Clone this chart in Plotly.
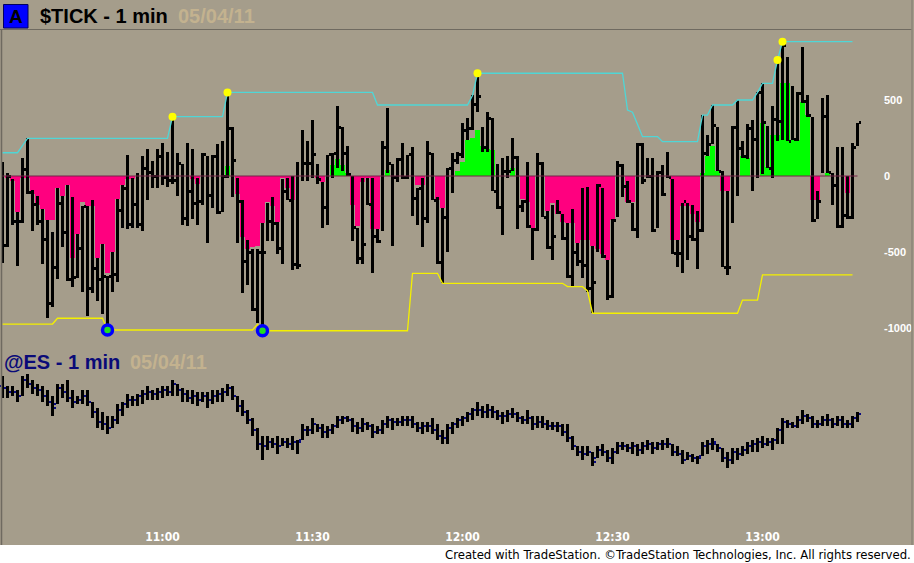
import pandas as pd
import plotly.graph_objects as go

# ---------------- data ----------------
bar_times = pd.date_range("2011-05-04 10:28", periods=172, freq="min")
time_ticks = ["11:00", "11:30", "12:00", "12:30", "13:00"]
tick_levels = [500, 0, -500, -1000]

tick_high = [90, 20, -20, -240, 120, 248, -90, -130, -220, -290,
             -370, -80, -130, -60, -140, -380, -200, -200, -160, -540,
             -450, -660, -500, -150, -60, 140, -10, 20, 130, 180,
             100, 180, 220, 160, 390, 150, 80, 220, 180, -10,
             150, 130, 140, 210, 230, 550, 320, -10, -160, -420,
             -480, -480, -310, -175, -140, -300, -20, -10, 0, 90,
             300, 230, 370, 80, -40, 140, 150, 460, 320, 200,
             0, -340, -10, -10, -10, -350, 230, 450, 80, 120,
             220, 140, 190, -80, -10, 230, 150, -140, -210, 50,
             150, 160, 350, 380, 530, 676, 320, 420, 380, 80,
             120, 130, 250, 130, -160, 90, -340, 150, 90, -230,
             -190, -160, -250, -310, -220, -440, -80, -70, -460, -50,
             -80, -550, -280, 100, 80, -30, -180, 220, 220, 120,
             120, 30, 70, 160, -20, -420, -180, -180, -190, -230,
             400, 270, 467, 320, 30, -100, 330, 500, 230, 340,
             370, 550, 610, 330, 460, 763, 884, 780, 590, 550,
             850, 530, 390, -100, 510, 530, 20, 190, 190, 0,
             220, 350]
tick_low = [-570, -470, -320, -590, -310, -120, -360, -320, -580, -936,
            -860, -680, -470, -690, -730, -670, -760, -920, -770, -820,
            -910, -1013, -760, -700, -340, -350, -340, -340, -360, -160,
            -80, -80, -60, -70, -50, -130, -320, -330, -280, -320,
            -190, -440, -210, -250, -240, -10, -140, -440, -770, -720,
            -890, -970, -1018, -430, -430, -510, -580, -160, -620, -610,
            -30, -30, -10, -50, -340, -320, -10, 50, 30, 0,
            -430, -580, -580, -190, -640, -440, -360, 20, -460, -40,
            -20, -20, -260, -320, -470, -310, -160, -580, -706, -500,
            -110, 80, 120, 240, 300, 420, 160, 160, -100, -220,
            -390, -10, 30, -350, -240, -340, -550, -360, -270, -480,
            -550, -250, -420, -670, -728, -590, -670, -760, -903, -500,
            -540, -816, -800, -270, -140, -180, -360, -410, -50, -10,
            -370, -340, -130, -10, -510, -600, -640, -550, -430, -610,
            -370, 130, 210, 30, -600, -651, -310, -130, 120, 110,
            -100, -10, 10, 50, -10, 230, 240, 230, 240, 230,
            480, 390, -300, -280, 20, 20, -190, -340, -340, -280,
            -280, 200]
tick_close = [-460, 0, -300, -300, 40, -110, -190, -300, -420, -840,
              -600, -180, -370, -680, -670, -480, -200, -740, -610, -680,
              -660, -660, -650, -230, -80, -320, -190, -320, 50, 20,
              0, 130, -10, -30, -30, 80, -280, -100, -180, -170,
              140, -130, 130, -240, 0, 310, 100, -170, -560, -500,
              -880, -500, -500, -300, -310, -480, -100, -160, -580, -590,
              80, 80, 140, -20, -210, 140, 150, 320, 150, 10,
              -340, -540, -450, -190, -400, -430, 190, 80, -10, 110,
              -10, 140, -150, -80, -280, 150, -160, -570, -270, 50,
              100, 140, 300, 310, 470, 520, 190, 380, -100, -210,
              30, 30, 120, -200, -170, -330, -350, 80, -270, -470,
              -400, -240, -410, -660, -500, -560, -590, -740, -700, -60,
              -530, -790, -290, 70, -70, -170, -350, 210, -30, 0,
              -360, 20, -120, -10, -510, -510, -170, -400, -420, -360,
              150, 210, 330, 30, -600, -600, 320, 180, 130, 310,
              240, 550, 350, 50, 370, 360, 860, 230, 240, 540,
              490, 400, -290, -170, 390, 20, -60, -330, -260, -270,
              190, 350]
tick_hist = [0, -10, -35, -240, -10, -10, -120, -190, -220, -290,
             -290, -80, -130, -60, -540, -380, -170, -200, -200, -540,
             -450, -640, -500, -150, -60, -20, -20, 0, 0, 0,
             0, 0, 0, 0, 0, 0, 0, 0, -20, -55,
             0, 0, 0, 0, 0, 65, 0, -120, -400, -480,
             -470, -460, -310, -170, -200, -300, -10, -80, -160, 0,
             0, 0, 0, -10, -40, 0, 70, 110, 70, 20,
             -190, -330, -40, -10, -350, -350, 0, 40, 0, 0,
             0, 0, 0, -60, -60, 0, 0, -160, -210, 0,
             0, 30, 90, 240, 250, 300, 200, 180, 170, 0,
             0, 0, 50, 0, -150, -170, -340, 0, 0, -230,
             -180, -250, -300, -310, -310, -440, -420, -420, -460, -480,
             -510, -550, -290, 0, 0, -170, -170, 0, 0, 0,
             0, 0, 0, 0, -420, -420, -200, -200, -250, -300,
             20, 130, 200, 30, -100, -100, 0, 0, 130, 120,
             0, 0, 350, 60, 270, 270, 610, 610, 240, 240,
             490, 400, -160, -160, 0, 20, 0, 0, 0, -110,
             0, 0]
tick_upper = ([153] * 4 + [200] + [248] * 29 + [390] * 11 + [550] * 30 +
              [467] * 19 + [530] + [676] * 30 + [434, 420, 340] + [259] * 4 +
              [226] * 8 + [401] * 2 + [467] * 5 + [500] * 4 + [550] +
              [610] * 3 + [763] + [884] * 15 + [None])
tick_lower = ([-974] * 11 + [-936] * 10 + [-1013] * 30 + [-975] +
              [-1018] * 30 + [-640] * 6 + [-706] * 25 + [-728] * 4 + [-756] +
              [-903] * 30 + [-816] * 4 + [-651] * 19 + [None])
new_high_idx = [34, 45, 95, 155, 156]
new_low_idx = [21, 52]

es_high = [1356.0, 1354.75, 1354.75, 1354.25, 1356.0, 1356.25, 1355.5, 1355.0, 1354.75, 1354.25,
           1353.5, 1355.0, 1355.0, 1355.5, 1354.25, 1353.5, 1354.25, 1354.25, 1352.75, 1352.0,
           1351.5, 1351.0, 1351.0, 1352.5, 1352.75, 1353.75, 1353.5, 1353.75, 1354.25, 1354.75,
           1354.25, 1354.5, 1354.75, 1354.75, 1355.5, 1355.0, 1354.5, 1354.25, 1354.25, 1354.0,
           1354.0, 1354.0, 1354.25, 1354.25, 1354.5, 1355.0, 1354.75, 1353.5, 1353.0, 1351.75,
           1350.75, 1349.5, 1348.5, 1348.5, 1348.25, 1348.5, 1348.25, 1348.25, 1348.5, 1348.0,
           1350.0, 1349.75, 1350.75, 1350.0, 1350.0, 1349.75, 1350.0, 1351.0, 1351.0, 1351.0,
           1350.75, 1350.25, 1350.75, 1350.25, 1350.0, 1349.75, 1350.5, 1351.0, 1350.75, 1350.75,
           1351.0, 1351.0, 1351.0, 1350.25, 1350.25, 1350.25, 1350.75, 1350.0, 1349.25, 1350.0,
           1350.25, 1350.75, 1351.0, 1351.5, 1352.0, 1352.75, 1352.25, 1352.5, 1352.25, 1351.75,
           1351.5, 1351.75, 1352.0, 1351.5, 1351.0, 1351.75, 1351.0, 1351.0, 1351.0, 1350.5,
           1350.25, 1350.25, 1350.0, 1350.0, 1348.5, 1347.25, 1347.25, 1347.25, 1346.5, 1347.25,
           1347.5, 1346.75, 1347.0, 1347.75, 1347.75, 1347.5, 1347.75, 1347.5, 1347.75, 1348.0,
           1347.75, 1347.75, 1348.0, 1348.25, 1347.5, 1347.25, 1346.75, 1346.5, 1346.25, 1346.0,
           1347.75, 1348.0, 1348.25, 1347.5, 1347.0, 1346.5, 1347.0, 1347.0, 1347.25, 1347.75,
           1348.0, 1348.25, 1348.5, 1348.25, 1348.25, 1349.5, 1350.75, 1350.5, 1350.25, 1351.0,
           1351.75, 1351.25, 1351.0, 1350.5, 1351.0, 1351.25, 1350.75, 1351.0, 1351.0, 1350.5,
           1351.0, 1351.5]
es_low = [1353.25, 1353.25, 1353.5, 1352.75, 1353.5, 1354.5, 1353.75, 1353.5, 1352.75, 1352.25,
          1351.0, 1352.5, 1353.25, 1352.75, 1352.0, 1352.5, 1352.5, 1352.25, 1350.75, 1349.5,
          1349.25, 1348.75, 1349.5, 1350.0, 1351.0, 1352.0, 1352.25, 1352.25, 1352.5, 1353.0,
          1353.0, 1353.0, 1353.25, 1353.5, 1353.5, 1353.5, 1352.75, 1352.75, 1352.5, 1352.25,
          1352.75, 1352.0, 1352.5, 1352.75, 1352.75, 1353.5, 1353.0, 1351.5, 1351.0, 1350.0,
          1348.5, 1346.75, 1345.5, 1346.75, 1347.0, 1346.25, 1347.25, 1347.0, 1346.75, 1346.25,
          1348.0, 1348.5, 1348.75, 1349.0, 1348.25, 1348.25, 1348.75, 1349.5, 1350.0, 1350.25,
          1349.0, 1348.75, 1349.0, 1349.25, 1348.25, 1348.75, 1348.75, 1349.5, 1349.25, 1349.75,
          1349.75, 1349.75, 1349.5, 1349.0, 1348.75, 1349.0, 1348.75, 1348.0, 1347.5, 1347.5,
          1348.75, 1349.5, 1349.75, 1350.25, 1350.5, 1351.0, 1350.75, 1350.75, 1350.75, 1350.5,
          1350.0, 1350.25, 1350.75, 1350.25, 1350.0, 1350.0, 1349.25, 1349.5, 1349.5, 1349.25,
          1349.25, 1349.0, 1348.5, 1347.75, 1346.75, 1346.0, 1345.5, 1346.0, 1344.75, 1345.75,
          1346.0, 1345.25, 1345.0, 1346.25, 1346.75, 1346.5, 1346.25, 1346.0, 1346.25, 1346.75,
          1346.25, 1346.75, 1346.75, 1347.0, 1346.0, 1346.0, 1345.0, 1345.5, 1345.25, 1345.0,
          1346.0, 1346.25, 1346.75, 1346.5, 1345.25, 1344.5, 1345.0, 1345.5, 1346.0, 1346.25,
          1346.5, 1346.5, 1347.0, 1347.25, 1346.75, 1347.5, 1347.5, 1349.5, 1349.5, 1349.5,
          1350.0, 1350.25, 1349.5, 1349.5, 1349.75, 1349.75, 1349.5, 1349.75, 1349.5, 1349.5,
          1349.5, 1350.25]
es_close = [1354.5, 1354.0, 1354.0, 1353.5, 1355.5, 1355.0, 1354.5, 1354.25, 1353.5, 1352.75,
            1352.0, 1354.5, 1354.0, 1353.25, 1352.75, 1353.0, 1353.5, 1352.75, 1351.5, 1350.25,
            1350.0, 1349.5, 1350.5, 1351.75, 1352.5, 1353.0, 1353.0, 1353.5, 1353.75, 1354.0,
            1353.75, 1354.0, 1354.25, 1354.0, 1355.0, 1354.25, 1353.75, 1353.25, 1353.5, 1353.0,
            1353.5, 1353.0, 1353.5, 1353.75, 1354.0, 1354.5, 1353.5, 1352.25, 1351.5, 1350.5,
            1349.25, 1347.5, 1347.25, 1347.75, 1347.5, 1347.25, 1347.75, 1347.5, 1347.75, 1347.75,
            1349.25, 1349.25, 1350.0, 1349.5, 1349.0, 1349.25, 1349.75, 1350.5, 1350.75, 1350.5,
            1349.75, 1349.5, 1350.0, 1349.75, 1349.0, 1349.25, 1350.0, 1350.5, 1350.25, 1350.25,
            1350.5, 1350.5, 1350.0, 1349.5, 1349.75, 1349.75, 1349.25, 1348.5, 1348.25, 1349.5,
            1350.0, 1350.5, 1350.75, 1351.25, 1351.75, 1351.75, 1351.5, 1351.75, 1351.5, 1351.0,
            1351.0, 1351.25, 1351.25, 1350.75, 1350.5, 1350.75, 1350.0, 1350.25, 1350.0, 1349.75,
            1349.75, 1349.75, 1349.0, 1348.25, 1347.25, 1346.5, 1346.25, 1346.5, 1345.25, 1346.75,
            1346.5, 1345.75, 1346.5, 1347.25, 1347.25, 1347.0, 1347.25, 1346.75, 1347.25, 1347.5,
            1347.0, 1347.5, 1347.5, 1347.5, 1346.5, 1346.25, 1345.5, 1346.0, 1345.75, 1345.75,
            1347.25, 1347.5, 1347.75, 1347.0, 1345.75, 1345.5, 1346.5, 1346.25, 1346.75, 1347.25,
            1347.5, 1347.75, 1347.5, 1347.75, 1348.0, 1349.25, 1350.25, 1350.0, 1349.75, 1350.5,
            1351.0, 1350.75, 1350.0, 1350.0, 1350.5, 1350.5, 1350.0, 1350.5, 1350.0, 1350.0,
            1350.75, 1351.25]
es_open = [1354.75, 1354.5, 1354.0, 1354.0, 1353.5, 1355.5, 1355.0, 1354.5, 1354.25, 1353.5,
           1352.75, 1352.5, 1354.5, 1354.0, 1353.25, 1352.75, 1353.0, 1353.5, 1352.75, 1351.5,
           1350.25, 1350.0, 1349.5, 1350.5, 1351.75, 1352.5, 1353.0, 1353.0, 1353.5, 1353.75,
           1354.0, 1353.75, 1354.0, 1354.25, 1354.0, 1355.0, 1354.25, 1353.75, 1353.25, 1353.5,
           1353.0, 1353.5, 1353.0, 1353.5, 1353.75, 1354.0, 1354.5, 1353.5, 1352.25, 1351.5,
           1350.5, 1349.25, 1347.5, 1347.25, 1347.75, 1347.5, 1347.25, 1347.75, 1347.5, 1347.75,
           1348.0, 1349.25, 1349.25, 1350.0, 1349.5, 1349.0, 1349.25, 1349.75, 1350.5, 1350.75,
           1350.5, 1349.75, 1349.5, 1350.0, 1349.75, 1349.0, 1349.25, 1350.0, 1350.5, 1350.25,
           1350.25, 1350.5, 1350.5, 1350.0, 1349.5, 1349.75, 1349.75, 1349.25, 1348.5, 1348.25,
           1349.5, 1350.0, 1350.5, 1350.75, 1351.25, 1351.75, 1351.75, 1351.5, 1351.75, 1351.5,
           1351.0, 1351.0, 1351.25, 1351.25, 1350.75, 1350.5, 1350.75, 1350.0, 1350.25, 1350.0,
           1349.75, 1349.75, 1349.75, 1349.0, 1348.25, 1347.25, 1346.5, 1346.25, 1346.5, 1345.75,
           1346.75, 1346.5, 1345.75, 1346.5, 1347.25, 1347.25, 1347.0, 1347.25, 1346.75, 1347.25,
           1347.5, 1347.0, 1347.5, 1347.5, 1347.5, 1346.5, 1346.25, 1345.5, 1346.0, 1345.75,
           1346.0, 1347.25, 1347.5, 1347.5, 1347.0, 1345.75, 1345.5, 1346.5, 1346.25, 1346.75,
           1347.25, 1347.5, 1347.75, 1347.5, 1347.75, 1348.0, 1349.25, 1350.25, 1350.0, 1349.75,
           1350.5, 1351.0, 1350.75, 1350.0, 1350.0, 1350.5, 1350.5, 1350.0, 1350.5, 1350.0,
           1350.0, 1350.75]

for arr in (tick_high, tick_low, tick_close, tick_hist, tick_upper, tick_lower,
            es_high, es_low, es_close, es_open):
    assert len(arr) == len(bar_times), len(arr)

# ---------------- layout geometry (pixels) ----------------
W, H = 914, 563
BG = "#a59d8b"
PLOT_RIGHT = 878
t0 = bar_times[0]


def time_at_px(p):               # bar i is centred at 2.5 + 5*i px
    return t0 + pd.Timedelta(minutes=(p - 2.5) / 5.0)


def px_x(p):
    return p / W


def px_y(p):
    return 1 - p / H


x_range = [time_at_px(0), time_at_px(PLOT_RIGHT)]
MS = 12000                        # ms per pixel (5 px per minute)

# TICK panel: value v at y = 176 - 0.152 v
tick_top, tick_bot = 30, 340
tick_range = [(176 - tick_bot) / 0.152, (176 - tick_top) / 0.152]
# ES panel: price p at y = 376 + 8 (1356 - p)
es_top, es_bot = 345, 528
es_range = [1356 - (es_bot - 376) / 8.0, 1356 - (es_top - 376) / 8.0]

fig = go.Figure()

# histogram
fig.add_trace(go.Bar(
    x=bar_times, y=tick_hist, base=0, width=5 * MS,
    marker=dict(color=["#00ff00" if v > 0 else "#ff007f" for v in tick_hist],
                line=dict(width=0)),
    xaxis="x", yaxis="y", hoverinfo="skip"))
# zero line
fig.add_trace(go.Scatter(
    x=[bar_times[0], bar_times[-1]], y=[0, 0], mode="lines",
    line=dict(color="#742449", width=1), xaxis="x", yaxis="y", hoverinfo="skip"))
# upper / lower bands
fig.add_trace(go.Scatter(
    x=bar_times, y=tick_lower, mode="lines",
    line=dict(color="#f4f000", width=1.3), xaxis="x", yaxis="y", hoverinfo="skip"))
fig.add_trace(go.Scatter(
    x=bar_times, y=tick_upper, mode="lines",
    line=dict(color="#4fd6d6", width=1.3), xaxis="x", yaxis="y", hoverinfo="skip"))
# TICK high-low bars
fig.add_trace(go.Bar(
    x=bar_times, y=[h - l for h, l in zip(tick_high, tick_low)], base=tick_low,
    width=2.4 * MS, marker=dict(color="black", line=dict(width=0)),
    xaxis="x", yaxis="y", hoverinfo="skip"))
# TICK close ticks
tick_h = 3 / 0.152
fig.add_trace(go.Bar(
    x=bar_times, y=[tick_h] * len(tick_close), base=[c - tick_h / 2 for c in tick_close],
    width=2 * MS, offset=1.2 * MS, marker=dict(color="black", line=dict(width=0)),
    xaxis="x", yaxis="y", hoverinfo="skip"))
# new-high dots and low circles
fig.add_trace(go.Scatter(
    x=[bar_times[i] for i in new_high_idx], y=[tick_high[i] for i in new_high_idx],
    mode="markers", marker=dict(color="#ffff00", size=8, line=dict(width=0)),
    xaxis="x", yaxis="y", hoverinfo="skip"))
fig.add_trace(go.Scatter(
    x=[bar_times[i] for i in new_low_idx], y=[tick_low[i] for i in new_low_idx],
    mode="markers", marker=dict(color="#22dd22", size=10,
                                line=dict(color="#0000ff", width=3.5)),
    xaxis="x", yaxis="y", hoverinfo="skip", cliponaxis=False))

# ES bars
fig.add_trace(go.Bar(
    x=bar_times, y=[h - l for h, l in zip(es_high, es_low)], base=es_low,
    width=3 * MS, marker=dict(color="black", line=dict(width=0)),
    xaxis="x2", yaxis="y2", hoverinfo="skip"))
es_h = 0.25
fig.add_trace(go.Bar(
    x=bar_times, y=[es_h] * len(es_open), base=[o - es_h / 2 for o in es_open],
    width=2 * MS, offset=-3.5 * MS, marker=dict(color="#0a0a80", line=dict(width=0)),
    xaxis="x2", yaxis="y2", hoverinfo="skip"))
fig.add_trace(go.Bar(
    x=bar_times, y=[es_h] * len(es_close), base=[c - es_h / 2 for c in es_close],
    width=2 * MS, offset=1.5 * MS, marker=dict(color="#0a0a80", line=dict(width=0)),
    xaxis="x2", yaxis="y2", hoverinfo="skip"))

narrow = "Liberation Sans Narrow, DejaVu Sans Condensed, Arial Narrow, sans-serif"
sans = "Liberation Sans, Arial, sans-serif"
tick_times = [pd.Timestamp("2011-05-04 " + t) for t in time_ticks]

fig.update_layout(
    width=W, height=H, autosize=False,
    margin=dict(l=0, r=0, t=0, b=0, pad=0),
    paper_bgcolor=BG, plot_bgcolor=BG,
    barmode="overlay", bargap=0, showlegend=False, hovermode=False,
    xaxis=dict(domain=[0, PLOT_RIGHT / W], range=x_range, type="date",
               anchor="y", showticklabels=False, showgrid=False, zeroline=False,
               showline=False, ticks=""),
    xaxis2=dict(domain=[0, PLOT_RIGHT / W], range=x_range, type="date",
                anchor="y2", showgrid=False, zeroline=False, showline=False,
                ticks="", tickvals=tick_times,
                ticktext=["<b>%s</b>" % t for t in time_ticks],
                tickfont=dict(family=narrow, size=12, color="white")),
    yaxis=dict(domain=[px_y(tick_bot), px_y(tick_top)], range=tick_range,
               anchor="x", side="right", showgrid=False, zeroline=False,
               showline=False, ticks="", tickvals=tick_levels,
               ticktext=["<b>%d</b>" % v for v in tick_levels],
               tickfont=dict(family=sans, size=11, color="white"),
               ticklabelstandoff=5),
    yaxis2=dict(domain=[px_y(es_bot), px_y(es_top)], range=es_range,
                anchor="x2", visible=False),
)

shapes = [
    # footer band
    dict(type="rect", xref="paper", yref="paper", x0=0, x1=1, y0=0, y1=px_y(545),
         fillcolor="white", line=dict(width=0), layer="below"),
    # frame
    dict(type="line", xref="paper", yref="paper", x0=0, x1=px_x(912), y0=px_y(29.5),
         y1=px_y(29.5), line=dict(color="#6f6a60", width=1)),
    dict(type="line", xref="paper", yref="paper", x0=px_x(1.5), x1=px_x(1.5),
         y0=px_y(29.5), y1=px_y(545), line=dict(color="#6f6a60", width=1.5)),
    dict(type="line", xref="paper", yref="paper", x0=px_x(912), x1=px_x(912),
         y0=px_y(0), y1=px_y(545), line=dict(color="#8c8678", width=1.5)),
    # "A" box
    dict(type="rect", xref="paper", yref="paper", x0=px_x(3.5), x1=px_x(28),
         y0=px_y(28), y1=px_y(4.5), fillcolor="#0000ff",
         line=dict(color="#000060", width=1)),
]
fig.update_layout(shapes=shapes)

ann = [
    dict(text="<b>A</b>", x=px_x(16), y=px_y(17), xanchor="center", yanchor="middle",
         font=dict(family=sans, size=19, color="black")),
    dict(text="<b>$TICK - 1 min</b>", x=px_x(38), y=px_y(16), xanchor="left",
         yanchor="middle", font=dict(family=sans, size=20, color="black")),
    dict(text="<b>05/04/11</b>", x=px_x(176), y=px_y(16), xanchor="left",
         yanchor="middle", font=dict(family=sans, size=20, color="#c3b28f")),
    dict(text="<b>@ES - 1 min</b>", x=px_x(2), y=px_y(362), xanchor="left",
         yanchor="middle", font=dict(family=sans, size=20, color="#0a0a78")),
    dict(text="<b>05/04/11</b>", x=px_x(128), y=px_y(362), xanchor="left",
         yanchor="middle", font=dict(family=sans, size=20, color="#c3b28f")),
    dict(text="Created with TradeStation. \u00a9TradeStation Technologies, Inc. All rights reserved.",
         x=px_x(913), y=px_y(554), xanchor="right", yanchor="middle",
         font=dict(family=narrow, size=13, color="black")),
]
fig.update_layout(annotations=[dict(a, xref="paper", yref="paper", showarrow=False)
                               for a in ann])

fig.write_html("out.html",
               config={"displayModeBar": False, "staticPlot": True},
               post_script="document.body.style.margin='0px';"
                           "document.body.style.overflow='hidden';")
